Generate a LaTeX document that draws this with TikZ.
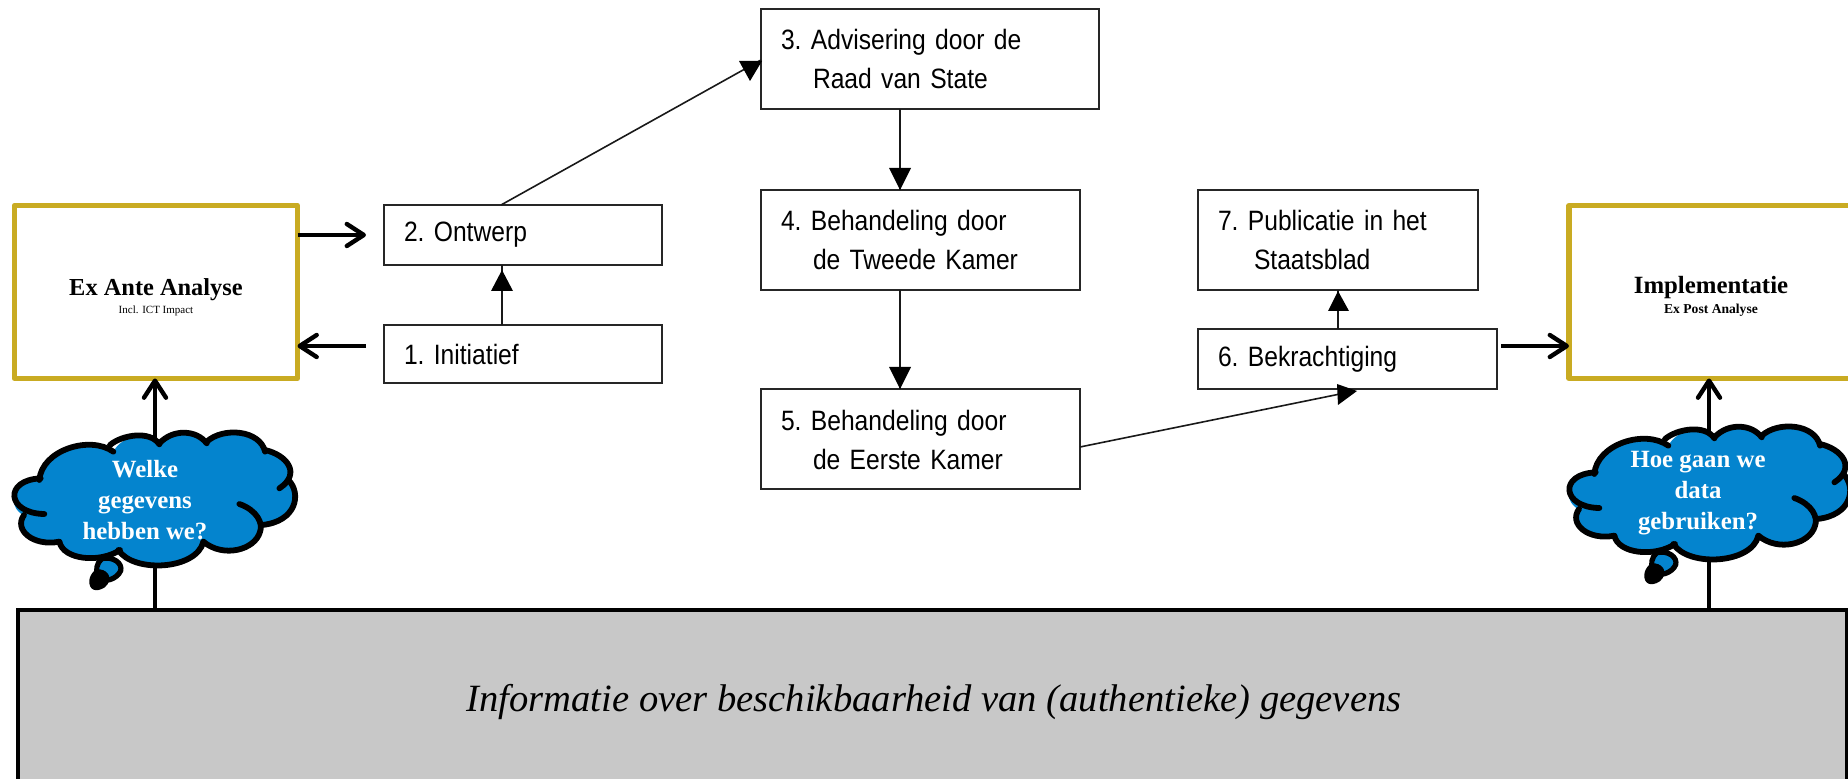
\documentclass[tikz,border=0pt]{standalone}
\usepackage{fontspec}
\setmainfont{Liberation Serif}
\newfontfamily\bmpfont[FakeStretch=0.88,WordSpace=0.7]{Liberation Sans}
\usetikzlibrary{arrows.meta,calc}
\definecolor{goldline}{HTML}{C9AB22}
\definecolor{cloudblue}{HTML}{0484CE}
\definecolor{greybar}{HTML}{C8C8C8}
\tikzset{
  x=0.5pt,y=-0.5pt,
  stepbox/.style={draw=black!85,line width=1pt,outer sep=0pt,fill=white,anchor=north west,align=left,inner xsep=10pt,inner ysep=0pt,font=\bmpfont\frenchspacing\fontsize{14}{19.5}\selectfont},
  goldbox/.style={draw=goldline,line width=2.6pt,line join=round,outer sep=0pt,fill=white,anchor=north west,align=center,inner sep=0pt},
  thinarrow/.style={line width=0.8pt,draw=black!90},
  bigarrow/.style={line width=2.2pt,draw=black,-{Straight Barb[length=8.5pt,width=11pt,line width=2.2pt,round]}},
  tip/.style={fill=black,draw=none},
  cloudline/.style={line width=2.9pt,draw=black,line cap=round,line join=round},
  cloudtext/.style={text=white,font=\bfseries\fontsize{12.4}{15.5}\selectfont,align=center,inner sep=0pt}
}
\newcommand{\cloudpic}[2]{%
\begin{scope}[shift={(#1,#2)},x=0.1667pt,y=-0.1667pt,cloudline]
 \path[fill=cloudblue,draw=none] (118,235) .. controls (125,150) and (270,105) .. (340,155)
   .. controls (365,105) and (450,90) .. (478,130)
   .. controls (520,85) and (590,90) .. (620,125)
   .. controls (670,80) and (780,90) .. (795,155)
   .. controls (860,165) and (890,215) .. (865,240)
   .. controls (905,280) and (890,365) .. (785,375)
   .. controls (780,440) and (670,475) .. (610,430)
   .. controls (590,510) and (400,520) .. (355,450)
   .. controls (300,490) and (190,480) .. (175,425)
   .. controls (100,440) and (40,390) .. (70,345)
   .. controls (20,320) and (35,240) .. (118,235) -- cycle;
 \draw (118,240) .. controls (125,150) and (270,105) .. (340,155);
 \draw (330,135) .. controls (365,105) and (450,90) .. (478,133);
 \draw (478,130) .. controls (520,85) and (590,90) .. (620,130);
 \draw (620,125) .. controls (670,80) and (780,90) .. (795,155);
 \draw (795,150) .. controls (860,165) and (905,220) .. (838,265);
 \draw (865,240) .. controls (905,280) and (890,365) .. (785,375);
 \draw (718,312) .. controls (770,330) and (790,370) .. (780,395) .. controls (765,450) and (670,475) .. (610,425);
 \draw (610,425) .. controls (590,510) and (400,520) .. (355,450);
 \draw (360,450) .. controls (300,490) and (190,480) .. (178,425);
 \draw (178,425) .. controls (100,440) and (40,390) .. (72,345);
 \draw (133,342) .. controls (20,340) and (10,240) .. (122,235);
 \path[fill=cloudblue,draw=black,line width=2.6pt] (305,476) .. controls (340,468) and (368,490) .. (362,512) .. controls (352,537) and (310,552) .. (295,530) .. controls (285,510) and (290,490) .. (305,476) -- cycle;
 \path[fill=black,draw=none] (300,508) .. controls (328,512) and (340,540) .. (314,562) .. controls (290,578) and (265,572) .. (268,540) .. controls (272,518) and (285,506) .. (300,508) -- cycle;
\end{scope}}
\begin{document}
\begin{tikzpicture}
\useasboundingbox (0,0) rectangle (1848,779);
% bar
\node[draw=black,line width=2.4pt,outer sep=0pt,fill=greybar,anchor=north west,minimum width=1829*0.5pt,minimum height=220*0.5pt,inner sep=0pt] (bar) at (18,610) {};
\node[font=\itshape\fontsize{19.3}{23}\selectfont] (bartext) at (934,702) {Informatie over beschikbaarheid van (authentieke) gegevens};
% gold
\node[goldbox,minimum width=283*0.5pt,minimum height=173*0.5pt] (exante) at (14.5,205.5) {\rule{0pt}{14pt}\fontsize{12.2}{13}\selectfont\bfseries Ex Ante Analyse\\[-3pt]\fontsize{5.5}{6}\selectfont\mdseries Incl. ICT Impact};
\node[goldbox,minimum width=284*0.5pt,minimum height=173*0.5pt] (impl) at (1569,205.5) {\rule{0pt}{13pt}\fontsize{12.4}{13}\selectfont\bfseries Implementatie\\[-2pt]\fontsize{6.8}{7}\selectfont\bfseries Ex Post Analyse};
% boxes
\node[stepbox,minimum width=278*0.5pt,minimum height=60*0.5pt,text width=119pt] (s2) at (384,205) {2. Ontwerp};
\node[stepbox,minimum width=278*0.5pt,minimum height=58*0.5pt,text width=119pt] (s1) at (384,325) {1. Initiatief};
\node[stepbox,minimum width=338*0.5pt,minimum height=100*0.5pt,text width=149pt] (s3) at (761,9.5) {3. Advisering door de\\\hspace*{16pt}Raad van State};
\node[stepbox,minimum width=319*0.5pt,minimum height=100*0.5pt,text width=139.5pt] (s4) at (761,190) {4. Behandeling door\\\hspace*{16pt}de Tweede Kamer};
\node[stepbox,minimum width=319*0.5pt,minimum height=100*0.5pt,text width=139.5pt] (s5) at (761,389.5) {5. Behandeling door\\\hspace*{16pt}de Eerste Kamer};
\node[stepbox,minimum width=280*0.5pt,minimum height=100*0.5pt,text width=120pt] (s7) at (1198,190) {7. Publicatie in het\\\hspace*{18pt}Staatsblad};
\node[stepbox,minimum width=299*0.5pt,minimum height=60*0.5pt,text width=129.5pt] (s6) at (1198,329) {6. Bekrachtiging};
% thin connectors
\draw[thinarrow] (s1.north -| 502,0) -- (s2.south -| 502,0);
\path[tip] (502,270) -- (491,291) -- (513,291) -- cycle;
\draw[thinarrow] (s2.north -| 501,0) -- (s3.west |- 0,60);
\path[tip] (739,61) -- (762,61) -- (750,81) -- cycle;
\draw[thinarrow] (s3.south -| 900,0) -- (s4.north -| 900,0);
\path[tip] (889,168) -- (911,168) -- (900,190) -- cycle;
\draw[thinarrow] (s4.south -| 900,0) -- (s5.north -| 900,0);
\path[tip] (889,367) -- (911,367) -- (900,389) -- cycle;
\draw[thinarrow] (s5.east |- 0,447) -- (1345,393);
\path[tip] (1337,384) -- (1357,391) -- (1338,405) -- cycle;
\draw[thinarrow] (s6.north -| 1338,0) -- (s7.south -| 1338,0);
\path[tip] (1338,291) -- (1328,311) -- (1349,311) -- cycle;
% big connectors
\coordinate (outA) at (366,235);
\coordinate (inA) at (366,346);
\coordinate (outB) at (1501,346);
\draw[bigarrow] (bar.north -| 155,0) -- (exante.south -| 155,0);
\draw[bigarrow] (bar.north -| 1709,0) -- (impl.south -| 1709,0);
\draw[bigarrow] (exante.east |- outA) -- (outA);
\draw[bigarrow] (inA) -- (exante.east |- inA);
\draw[bigarrow] (outB) -- (impl.west |- outB);
% clouds
\cloudpic{0}{400}
\node[cloudtext] (q1) at (145,500) {Welke\\gegevens\\hebben we?};
\cloudpic{1555}{394}
\node[cloudtext] (q2) at (1698,493.5) {Hoe gaan we\\data\\gebruiken?};
\end{tikzpicture}
\end{document}
